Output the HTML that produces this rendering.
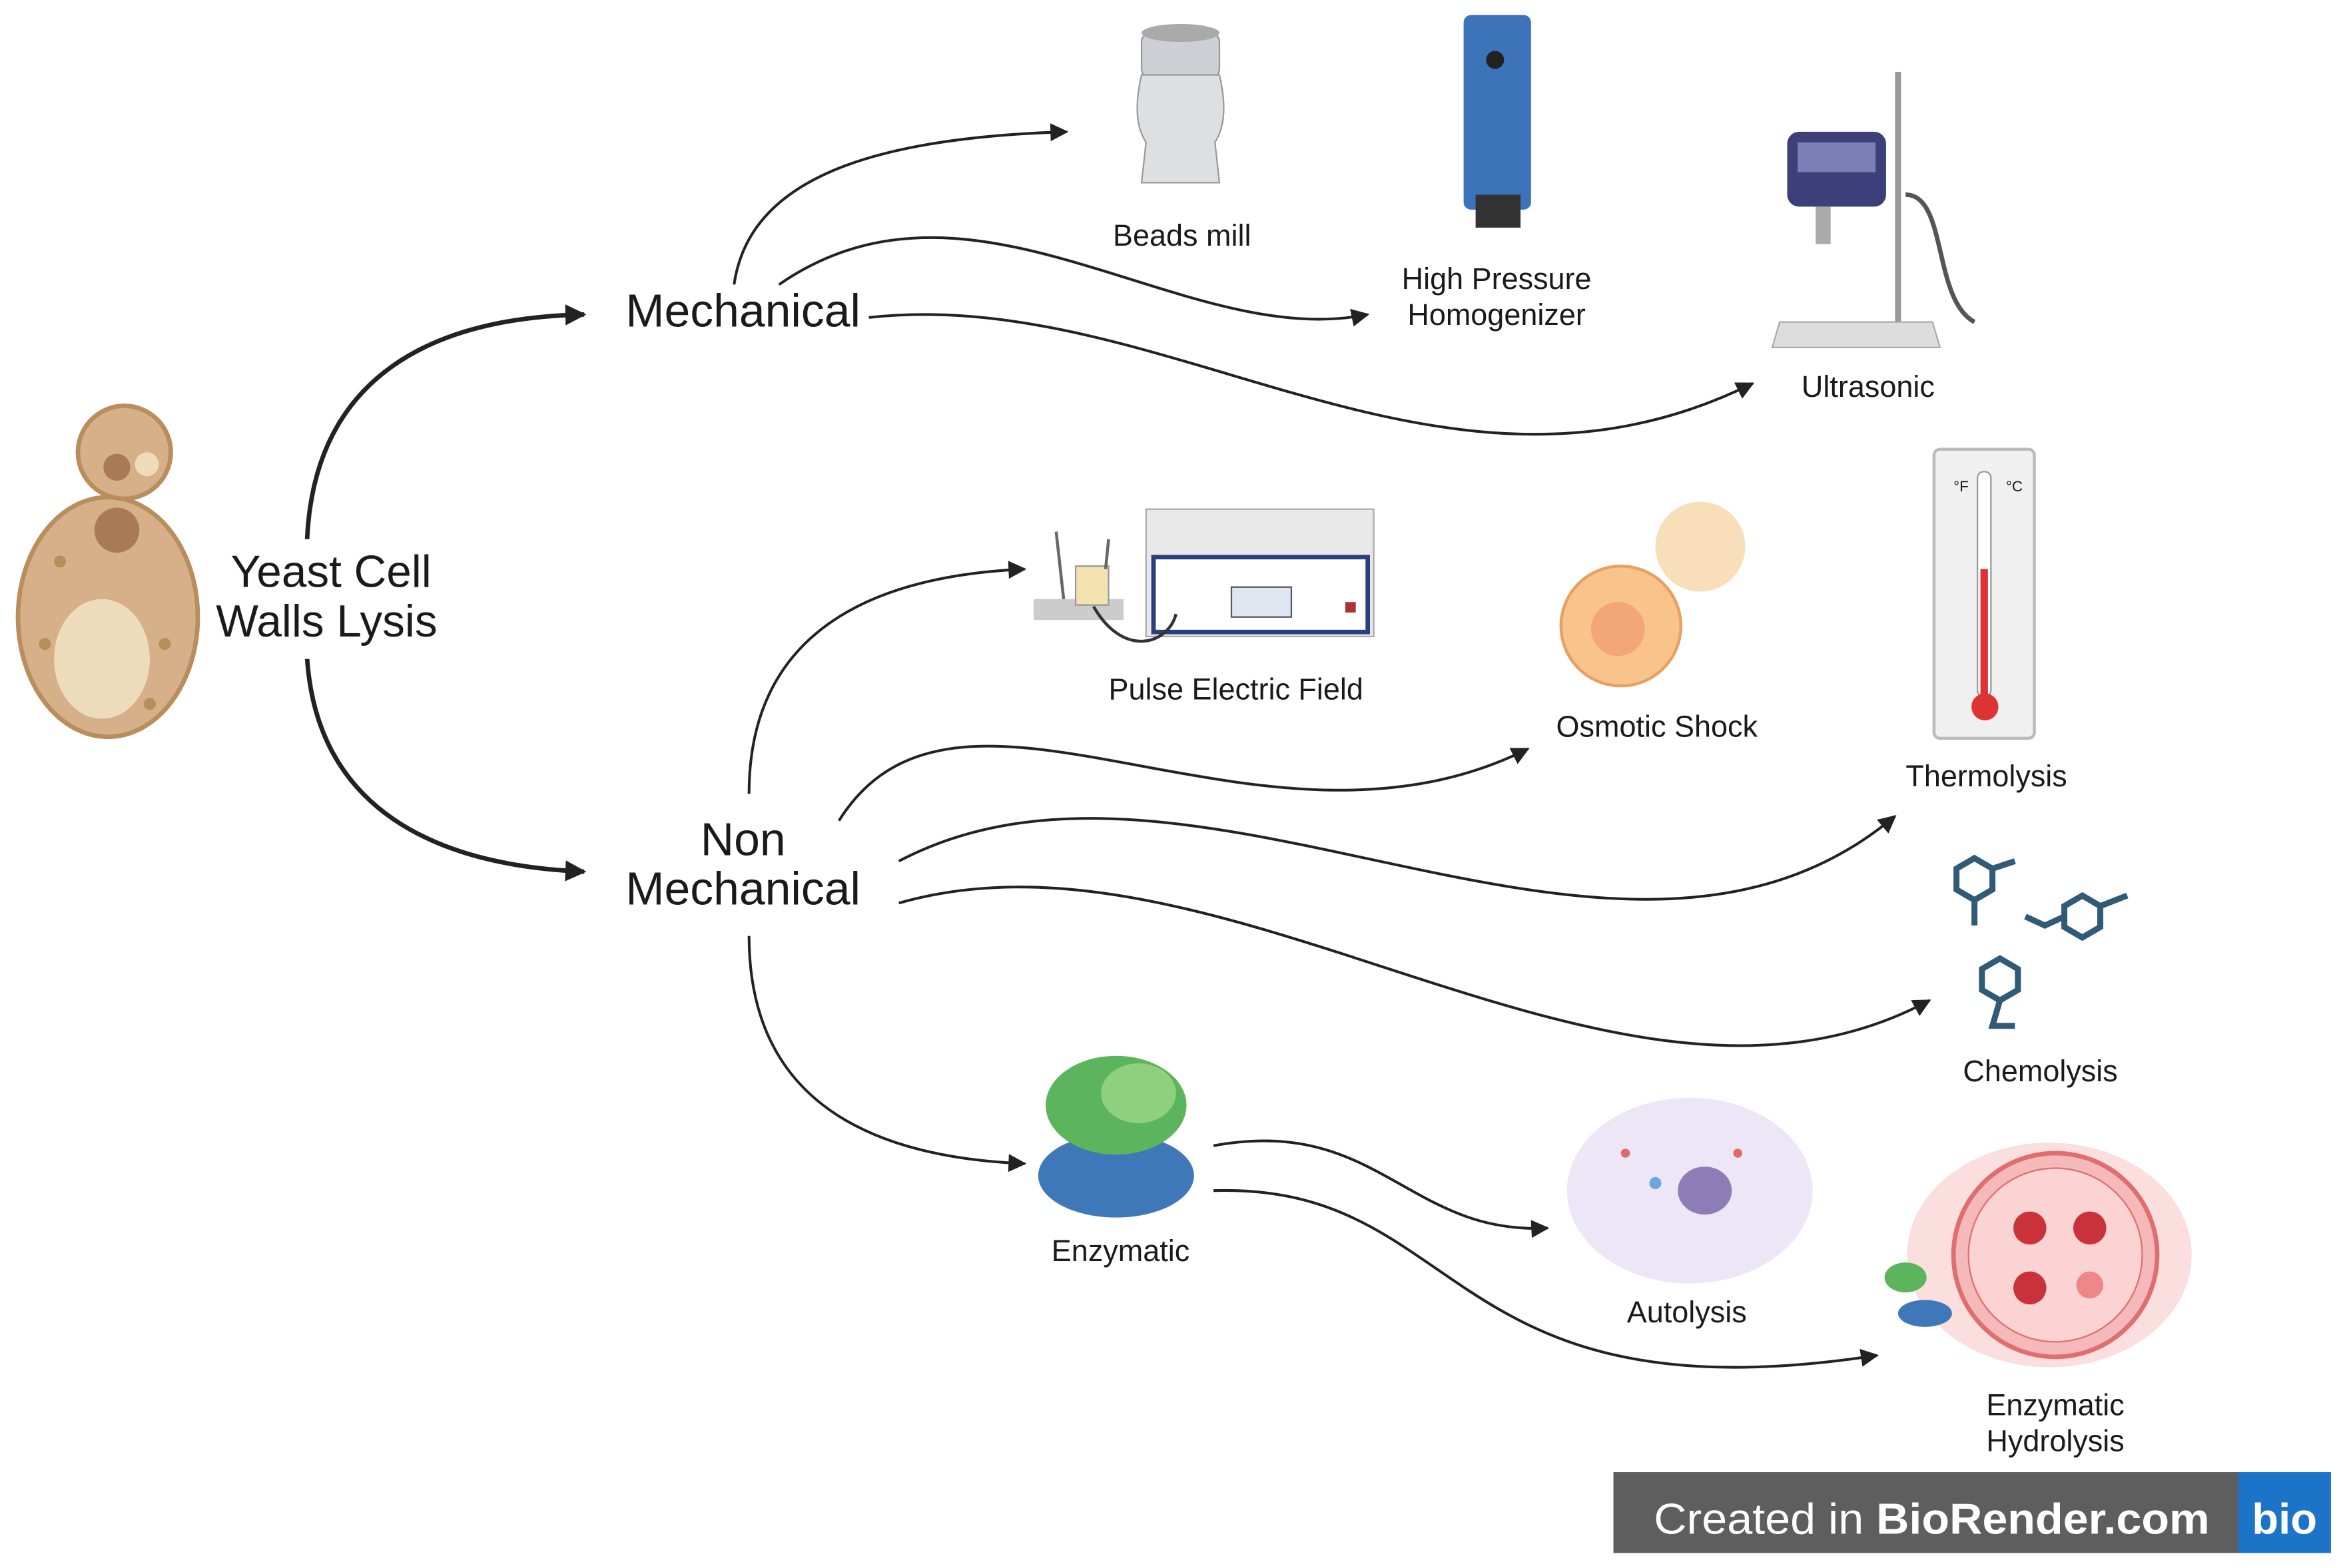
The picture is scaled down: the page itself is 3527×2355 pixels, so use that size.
<!DOCTYPE html>
<html><head><meta charset="utf-8"><style>
html,body{margin:0;padding:0;background:#fff;}
svg{display:block;}
text{font-family:"Liberation Sans",sans-serif;fill:#1a1a1a;}
</style></head><body>
<svg width="3527" height="2355" viewBox="0 0 1568 1047" xmlns="http://www.w3.org/2000/svg">
<defs>
<marker id="a" viewBox="0 0 10 10" refX="9" refY="5" markerWidth="14" markerHeight="12" orient="auto" markerUnits="userSpaceOnUse"><path d="M0,0 L10,5 L0,10 z" fill="#222"/></marker>
<marker id="b" viewBox="0 0 10 10" refX="9" refY="5" markerWidth="16" markerHeight="14" orient="auto" markerUnits="userSpaceOnUse"><path d="M0,0 L10,5 L0,10 z" fill="#222"/></marker>
</defs>
<rect width="1568" height="1047" fill="#fff"/>

<!-- Yeast -->
<ellipse cx="72" cy="412" rx="60" ry="80" fill="#d5b088" stroke="#b98d5c" stroke-width="3"/>
<ellipse cx="68" cy="440" rx="32" ry="40" fill="#eddcbc"/>
<circle cx="78" cy="354" r="15" fill="#a87a55"/>
<circle cx="83" cy="302" r="31" fill="#d5b088" stroke="#b98d5c" stroke-width="3"/>
<circle cx="78" cy="312" r="9" fill="#a87a55"/>
<circle cx="98" cy="310" r="8" fill="#eddcbc"/>
<circle cx="40" cy="375" r="4" fill="#b98d5c"/><circle cx="110" cy="430" r="4" fill="#b98d5c"/><circle cx="30" cy="430" r="4" fill="#b98d5c"/><circle cx="100" cy="470" r="4" fill="#b98d5c"/>

<text x="221" y="392" font-size="30" text-anchor="middle">Yeast Cell</text>
<text x="218" y="425" font-size="30" text-anchor="middle">Walls Lysis</text>

<!-- main arrows -->
<path d="M205,360 C210,250 290,212 390,210" fill="none" stroke="#222" stroke-width="3" marker-end="url(#b)"/>
<path d="M205,440 C212,540 290,578 390,582" fill="none" stroke="#222" stroke-width="3" marker-end="url(#b)"/>

<text x="496" y="218" font-size="31" text-anchor="middle">Mechanical</text>
<text x="496" y="571" font-size="31" text-anchor="middle">Non</text>
<text x="496" y="604" font-size="31" text-anchor="middle">Mechanical</text>

<g fill="none" stroke="#222" stroke-width="1.8" marker-end="url(#a)">
<path d="M490,190 C500,120 580,92 712,88"/>
<path d="M520,190 C650,100 790,235 913,210"/>
<path d="M580,212 C780,190 960,360 1170,256"/>
<path d="M500,530 C500,430 570,385 684,380"/>
<path d="M560,548 C640,420 840,590 1020,500"/>
<path d="M600,575 C800,470 1080,700 1265,545"/>
<path d="M600,603 C820,540 1080,780 1288,668"/>
<path d="M500,625 C500,720 560,772 684,777"/>
<path d="M810,765 C920,745 940,825 1033,820"/>
<path d="M810,795 C980,790 960,950 1253,905"/>
</g>

<!-- Beads mill -->
<rect x="762" y="22" width="52" height="30" rx="6" fill="#ccd0d4" stroke="#999"/>
<path d="M762,50 Q755,80 765,95 L762,122 L814,122 L811,95 Q821,80 814,50 z" fill="#dde0e3" stroke="#999"/>
<ellipse cx="788" cy="22" rx="26" ry="6" fill="#aaa"/>
<text x="789" y="164" font-size="20" text-anchor="middle">Beads mill</text>

<!-- Homogenizer -->
<rect x="977" y="10" width="45" height="130" rx="5" fill="#3d73b8"/>
<rect x="985" y="130" width="30" height="22" fill="#333"/>
<circle cx="998" cy="40" r="6" fill="#222"/>
<text x="999" y="193" font-size="20" text-anchor="middle">High Pressure</text>
<text x="999" y="217" font-size="20" text-anchor="middle">Homogenizer</text>

<!-- Ultrasonic -->
<rect x="1265" y="48" width="4" height="182" fill="#999"/>
<path d="M1183,232 L1295,232 L1290,215 L1188,215 z" fill="#ddd" stroke="#aaa"/>
<rect x="1193" y="88" width="66" height="50" rx="8" fill="#3d3f7a"/>
<rect x="1200" y="95" width="52" height="20" fill="#7b7fb5"/>
<rect x="1212" y="138" width="10" height="25" fill="#aaa"/>
<path d="M1272,130 C1300,130 1290,200 1318,215" fill="none" stroke="#555" stroke-width="3"/>
<text x="1247" y="265" font-size="20" text-anchor="middle">Ultrasonic</text>

<!-- PEF -->
<rect x="765" y="340" width="152" height="85" fill="#e8e8e8" stroke="#aaa"/>
<rect x="770" y="372" width="143" height="50" fill="#fff" stroke="#2b3f7a" stroke-width="3"/>
<rect x="822" y="392" width="40" height="20" fill="#e0e6f0" stroke="#556"/>
<rect x="898" y="402" width="7" height="7" fill="#a33"/>
<rect x="690" y="400" width="60" height="14" fill="#ccc"/>
<rect x="718" y="378" width="22" height="26" fill="#f3e2b0" stroke="#999"/>
<path d="M705,355 L710,400 M740,360 L738,380" stroke="#666" stroke-width="2"/>
<path d="M730,405 C750,440 780,430 785,410" fill="none" stroke="#333" stroke-width="2"/>
<text x="825" y="467" font-size="20" text-anchor="middle">Pulse Electric Field</text>

<!-- Osmotic -->
<circle cx="1135" cy="365" r="30" fill="#f6d6a8" opacity="0.8"/>
<ellipse cx="1082" cy="418" rx="40" ry="40" fill="#f9c48c" stroke="#e8a060" stroke-width="2"/>
<circle cx="1080" cy="420" r="18" fill="#f3a67a"/>
<text x="1106" y="492" font-size="20" text-anchor="middle">Osmotic Shock</text>

<!-- Thermometer -->
<rect x="1291" y="300" width="67" height="193" rx="4" fill="#f0f0f0" stroke="#bbb" stroke-width="2"/>
<rect x="1320" y="315" width="9" height="150" rx="4" fill="#fff" stroke="#999"/>
<rect x="1322" y="380" width="5" height="90" fill="#d33"/>
<circle cx="1325" cy="472" r="9" fill="#d33"/>
<text x="1304" y="328" font-size="10">°F</text><text x="1339" y="328" font-size="10">°C</text>
<text x="1326" y="525" font-size="20" text-anchor="middle">Thermolysis</text>

<!-- Chemolysis -->
<g fill="none" stroke="#2f5a78" stroke-width="4">
<polygon points="1318,573 1330,580 1330,594 1318,601 1306,594 1306,580"/>
<path d="M1330,580 L1345,575 M1318,601 L1318,618"/>
<polygon points="1390,598 1402,605 1402,619 1390,626 1378,619 1378,605"/>
<path d="M1378,612 L1365,618 L1352,612 M1402,605 L1420,598"/>
<polygon points="1335,640 1347,647 1347,661 1335,668 1323,661 1323,647"/>
<path d="M1335,668 L1330,685 L1345,685"/>
</g>
<text x="1362" y="722" font-size="20" text-anchor="middle">Chemolysis</text>

<!-- Enzymatic -->
<ellipse cx="745" cy="785" rx="52" ry="28" fill="#3f78b8"/>
<ellipse cx="745" cy="738" rx="47" ry="33" fill="#5cb45c"/>
<ellipse cx="760" cy="730" rx="25" ry="20" fill="#8ed07e"/>
<text x="748" y="842" font-size="20" text-anchor="middle">Enzymatic</text>

<!-- Autolysis -->
<ellipse cx="1128" cy="795" rx="82" ry="62" fill="#ece6f6"/>
<ellipse cx="1138" cy="795" rx="18" ry="16" fill="#8c7db8"/>
<circle cx="1105" cy="790" r="4" fill="#6aa7e0"/><circle cx="1085" cy="770" r="3" fill="#e06a6a"/><circle cx="1160" cy="770" r="3" fill="#e06a6a"/>
<text x="1126" y="883" font-size="20" text-anchor="middle">Autolysis</text>

<!-- Enzymatic hydrolysis -->
<ellipse cx="1368" cy="838" rx="95" ry="75" fill="#fbdede"/>
<circle cx="1372" cy="838" r="68" fill="#f6b9b9" stroke="#e06e6e" stroke-width="3"/>
<circle cx="1372" cy="838" r="58" fill="#fbd3d3" stroke="#e06e6e" stroke-width="1"/>
<circle cx="1355" cy="820" r="11" fill="#c9323a"/><circle cx="1395" cy="820" r="11" fill="#c9323a"/><circle cx="1355" cy="860" r="11" fill="#c9323a"/><circle cx="1395" cy="858" r="9" fill="#e88"/>
<ellipse cx="1272" cy="853" rx="14" ry="10" fill="#5cb45c"/>
<ellipse cx="1285" cy="877" rx="18" ry="9" fill="#3f78b8"/>
<text x="1372" y="945" font-size="20" text-anchor="middle">Enzymatic</text>
<text x="1372" y="969" font-size="20" text-anchor="middle">Hydrolysis</text>

<!-- badge -->
<rect x="1077" y="983" width="418" height="54" fill="#5e5e5e"/>
<rect x="1494" y="983" width="62" height="54" fill="#1b74c7"/>
<text x="1104" y="1024" font-size="29" textLength="371" lengthAdjust="spacingAndGlyphs" style="fill:#fff">Created in <tspan font-weight="bold" style="fill:#fff">BioRender.com</tspan></text>
<text x="1525" y="1024" font-size="29" font-weight="bold" text-anchor="middle" style="fill:#fff">bio</text>
</svg>
</body></html>
